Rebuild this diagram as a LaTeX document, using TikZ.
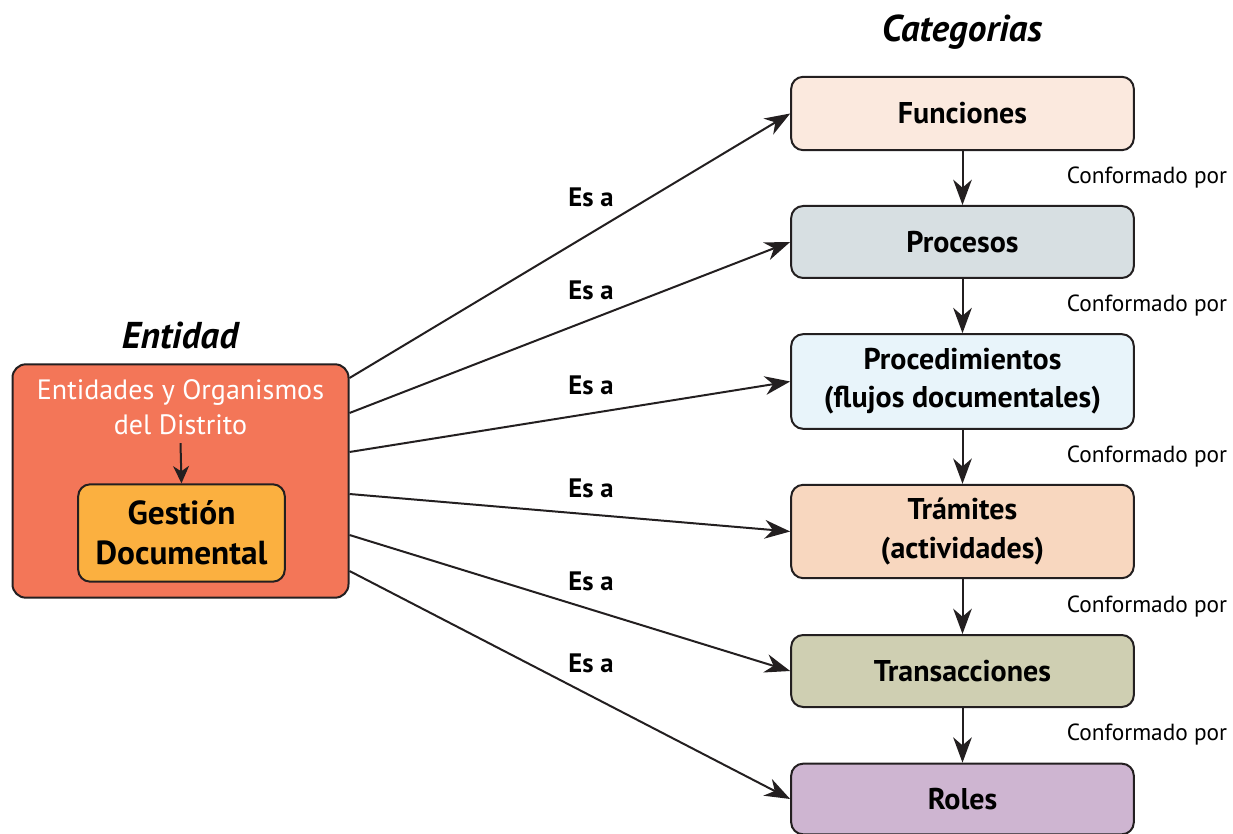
\documentclass[tikz,border=0pt]{standalone}
\usepackage{fontspec}
\setmainfont{PT Sans}
\usetikzlibrary{arrows.meta,calc}
\definecolor{lineC}{HTML}{231F20}
\definecolor{entC}{HTML}{F37658}
\definecolor{gesC}{HTML}{FBB040}
\definecolor{funC}{HTML}{FBE9DE}
\definecolor{proC}{HTML}{D7DFE2}
\definecolor{pdmC}{HTML}{E8F4FA}
\definecolor{traC}{HTML}{F8D7BF}
\definecolor{trnC}{HTML}{CFCFB2}
\definecolor{rolC}{HTML}{CEB5D1}
\tikzset{
  catbox/.style={draw=lineC, line width=1.5pt, rounded corners=9pt, minimum width=257pt, align=center, font=\fontsize{22.5}{28.5}\selectfont\bfseries, text=black},
  conn/.style={draw=lineC, line width=1.5pt, -{Stealth[length=19pt,width=14pt,inset=6pt]}},
  esa/.style={font=\fontsize{20}{24}\selectfont\bfseries, text=black},
  conf/.style={font=\fontsize{17.5}{20}\selectfont, text=black},
  ttl/.style={font=\fontsize{28}{32}\selectfont\bfseries\itshape, text=black}
}
\begin{document}
\begin{tikzpicture}[x=0.75pt,y=-0.75pt]
\useasboundingbox (0,0) rectangle (1233,834);
% titles
\node[ttl] (tcat) at (962,32) {Categorias};
\node[ttl] (tent) at (180,335) {Entidad};
% entity
\node[draw=lineC, line width=1.5pt, fill=entC, rounded corners=10pt, minimum width=252pt, minimum height=175pt] (ent) at (180.5,481) {};
\node[font=\fontsize{21}{26}\selectfont, text=white, align=center] (orgs) at (180.5,407) {Entidades y Organismos\\del Distrito};
\node[draw=lineC, line width=1.5pt, fill=gesC, rounded corners=9pt, minimum width=155pt, minimum height=73pt, align=center, font=\fontsize{25}{30}\selectfont\bfseries] (ges) at (181.5,533) {Gestión\\Documental};
\draw[draw=lineC, line width=1.5pt, -{Stealth[length=13pt,width=12pt,inset=4pt]}] (orgs.south) ++(0,4) coordinate (gs) -- (ges.north);
% categories
\node[catbox, fill=funC, minimum height=55pt] (fun) at (962.5,113.5) {Funciones};
\node[catbox, fill=proC, minimum height=54pt] (pro) at (962.5,242) {Procesos};
\node[catbox, fill=pdmC, minimum height=71pt] (pdm) at (962.5,381.5) {Procedimientos\\(flujos documentales)};
\node[catbox, fill=traC, minimum height=70pt] (tra) at (962.5,531.5) {Trámites\\(actividades)};
\node[catbox, fill=trnC, minimum height=54pt] (trn) at (962.5,671) {Transacciones};
\node[catbox, fill=rolC, minimum height=53pt] (rol) at (962.5,799) {Roles};
% vertical connectors
\draw[conn] (fun) -- (pro);
\draw[conn] (pro) -- (pdm);
\draw[conn] (pdm) -- (tra);
\draw[conn] (tra) -- (trn);
\draw[conn] (trn) -- (rol);
% conformado por
\node[conf] (c1) at (1147,178) {Conformado por};
\node[conf] (c2) at (1147,306) {Conformado por};
\node[conf] (c3) at (1147,457) {Conformado por};
\node[conf] (c4) at (1147,607) {Conformado por};
\node[conf] (c5) at (1147,735) {Conformado por};
% es a connectors
\draw[conn] ($(ent.east)+(0,-103)$) -- (fun.west);
\draw[conn] ($(ent.east)+(0,-68)$) -- (pro.west);
\draw[conn] ($(ent.east)+(0,-29)$) -- (pdm.west);
\draw[conn] ($(ent.east)+(0,13)$) -- (tra.west);
\draw[conn] ($(ent.east)+(0,54)$) -- (trn.west);
\draw[conn] ($(ent.east)+(0,90)$) -- (rol.west);
\node[esa] (e1) at (591,197) {Es a};
\node[esa] (e2) at (591,290) {Es a};
\node[esa] (e3) at (591,385) {Es a};
\node[esa] (e4) at (591,488) {Es a};
\node[esa] (e5) at (591,581) {Es a};
\node[esa] (e6) at (591,663) {Es a};
\end{tikzpicture}
\end{document}
